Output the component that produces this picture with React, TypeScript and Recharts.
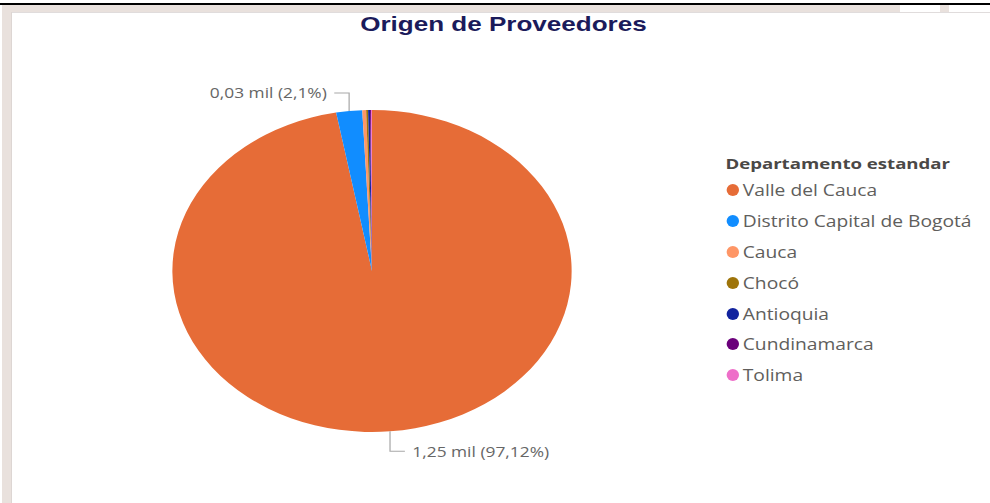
import { PieChart, Pie, Cell } from "recharts";

const departments = [
  "Valle del Cauca",
  "Distrito Capital de Bogotá",
  "Cauca",
  "Chocó",
  "Antioquia",
  "Cundinamarca",
  "Tolima",
];
const providers = [1249, 27, 4, 2, 2, 1, 1];
const colors = ["#E66C37", "#118DFF", "#FE9666", "#9E7409", "#12239E", "#6B007B", "#EE6FC9"];

const data = departments.map((name, i) => ({ name, value: providers[i] }));

// the reference is stretched horizontally, so everything is drawn narrow and scaled
const SX = 1.24;
const FONT = "'Segoe UI', 'Open Sans', sans-serif";

const fmtValue = (v: number) => `${(v / 1000).toFixed(2).replace(".", ",")} mil`;
const fmtPct = (p: number) => {
  const pct = p * 100;
  return `${pct.toFixed(pct >= 10 ? 2 : 1).replace(".", ",")}%`;
};

// elbow labels only for the two biggest slices
const renderLabel = (props: any) => {
  const { cx, cy, midAngle, outerRadius, index, value, percent } = props;
  if (index > 1) return null;
  const RAD = Math.PI / 180;
  const x0 = cx + outerRadius * Math.cos(-midAngle * RAD);
  const y0 = cy + outerRadius * Math.sin(-midAngle * RAD);
  const down = y0 > cy;
  const left = x0 < cx;
  const y1 = down ? y0 + 20 : y0 - 18;
  const x2 = left ? x0 - 12 : x0 + 12;
  const tx = left ? x2 - 6 : x2 + 6;
  return (
    <g key={`lbl-${index}`}>
      <polyline
        points={`${x0},${y0} ${x0},${y1} ${x2},${y1}`}
        fill="none"
        stroke="#a8a8a8"
        strokeWidth={1}
      />
      <text
        x={tx}
        y={y1}
        textAnchor={left ? "end" : "start"}
        dominantBaseline="central"
        fontSize={14}
        fontFamily={FONT}
        fill="#666"
      >
        {`${fmtValue(value)} (${fmtPct(percent)})`}
      </text>
    </g>
  );
};

export default function App() {
  return (
    <div
      style={{
        position: "absolute",
        left: 0,
        top: 0,
        width: 990,
        height: 503,
        overflow: "hidden",
        background: "#fff",
      }}
    >
      {/* report frame */}
      <div style={{ position: "absolute", left: 0, top: 3, width: 990, height: 2, background: "#000" }} />
      <div style={{ position: "absolute", left: 2, top: 5, width: 988, height: 8, background: "#e9e1dd" }} />
      <div style={{ position: "absolute", left: 900, top: 5, width: 40, height: 7, background: "#fff" }} />
      <div style={{ position: "absolute", left: 949, top: 5, width: 41, height: 7, background: "#fff" }} />
      <div style={{ position: "absolute", left: 12, top: 12, width: 978, height: 1, background: "#e0dcdc" }} />
      <div style={{ position: "absolute", left: 2, top: 5, width: 10, height: 498, background: "#e9e1dd" }} />
      <div style={{ position: "absolute", left: 11, top: 12, width: 1, height: 491, background: "#ddd6d3" }} />

      <div
        style={{
          position: "absolute",
          left: 0,
          top: 0,
          width: 990 / SX,
          height: 503,
          transform: `scaleX(${SX})`,
          transformOrigin: "left top",
        }}
      >
        <div
          style={{
            position: "absolute",
            left: 0,
            top: 12,
            width: 812,
            textAlign: "center",
            fontFamily: "'Liberation Sans', Arial, sans-serif",
            fontWeight: "bold",
            fontSize: 21,
            color: "#1b1b5b",
            lineHeight: "24px",
          }}
        >
          Origen de Proveedores
        </div>

        <div style={{ position: "absolute", left: 0, top: 0 }}>
          <PieChart width={600} height={503} margin={{ top: 0, right: 0, bottom: 0, left: 0 }}>
            <Pie
              data={data}
              dataKey="value"
              nameKey="name"
              cx={300}
              cy={271}
              outerRadius={161}
              startAngle={90}
              endAngle={-270}
              stroke="none"
              label={renderLabel}
              labelLine={false}
              isAnimationActive={false}
            >
              {data.map((d, i) => (
                <Cell key={d.name} fill={colors[i]} />
              ))}
            </Pie>
          </PieChart>
        </div>

        {/* legend */}
        <div style={{ position: "absolute", left: 585, top: 152, fontFamily: FONT }}>
          <div style={{ fontSize: 15, fontWeight: "bold", color: "#4a4846", lineHeight: "22px", height: 26 }}>
            Departamento estandar
          </div>
          {data.map((d, i) => (
            <div
              key={d.name}
              style={{ display: "flex", alignItems: "center", height: 30.8, marginTop: i === 0 ? -3 : 0 }}
            >
              <span
                style={{
                  display: "inline-block",
                  width: 10,
                  height: 12,
                  borderRadius: "50%",
                  background: colors[i],
                  marginLeft: 1,
                  marginRight: 3,
                }}
              />
              <span style={{ fontSize: 15.5, color: "#605e5c" }}>{d.name}</span>
            </div>
          ))}
        </div>
      </div>
    </div>
  );
}
